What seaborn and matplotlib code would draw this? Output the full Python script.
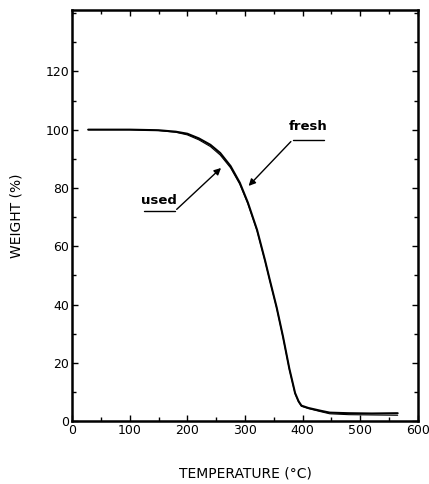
"""
TGA curves of fresh vs used sample: weight (%) against temperature.
"""
import pandas as pd
import matplotlib
matplotlib.use("Agg")
import matplotlib.pyplot as plt
import seaborn as sns

# values
temp_fresh = [28, 100, 150, 180, 200, 220, 240, 257, 275, 291, 305, 321, 335, 343, 355, 366, 377, 387, 393, 398, 410, 430, 447, 480, 520, 565]
weight_fresh = [100, 100, 99.8, 99.3, 98.6, 97.0, 94.8, 92.0, 87.5, 81.8, 75.0, 65.6, 55.0, 48.5, 39.0, 29.0, 18.0, 9.6, 6.8, 5.3, 4.5, 3.6, 2.9, 2.7, 2.6, 2.7]
temp_used = [28, 100, 150, 180, 200, 220, 240, 257, 275, 291, 305, 321, 335, 343, 355, 366, 377, 387, 393, 398, 410, 430, 447, 480, 520, 565]
weight_used = [100, 100, 99.7, 99.1, 98.2, 96.5, 94.2, 91.3, 86.9, 81.3, 74.6, 65.3, 54.8, 48.3, 38.8, 28.8, 17.8, 9.4, 6.6, 5.1, 4.3, 3.3, 2.5, 2.2, 2.1, 2.0]

df = pd.concat([
    pd.DataFrame({"temperature": temp_fresh, "weight": weight_fresh, "sample": "fresh"}),
    pd.DataFrame({"temperature": temp_used, "weight": weight_used, "sample": "used"}),
])

sns.set_theme(style="ticks")
plt.rcParams["font.family"] = ["DejaVu Sans"]
plt.rcParams["text.color"] = "black"
plt.rcParams["axes.labelcolor"] = "black"

fig = plt.figure(figsize=(4.29, 4.84), dpi=100)
ax = fig.add_axes([0.168, 0.130, 0.806, 0.849])

sns.lineplot(data=df, x="temperature", y="weight", hue="sample", size="sample",
             palette={"fresh": "black", "used": "black"},
             sizes={"fresh": 1.5, "used": 0.8}, legend=False, ax=ax, sort=False)

ax.set_xlim(0, 600)
ax.set_ylim(0, 141)
ax.set_xticks(range(0, 601, 100))
ax.set_xticks(range(0, 601, 50), minor=True)
ax.set_yticks(range(0, 121, 20))
ax.set_yticks(range(0, 141, 10), minor=True)
ax.tick_params(which="both", direction="in", top=True, right=True, labelsize=9,
               color="black", labelcolor="black", pad=2)
ax.tick_params(which="major", length=4, width=1)
ax.tick_params(which="minor", length=3, width=1)
for sp in ax.spines.values():
    sp.set_linewidth(1.8)
    sp.set_color("black")

ax.set_xlabel("TEMPERATURE (°C)", fontsize=10, labelpad=21)
ax.set_ylabel("WEIGHT (%)", fontsize=10, labelpad=16)

# annotations with underline leaders
ax.text(409, 99, "fresh", fontsize=9.5, fontweight="bold", ha="center", va="bottom")
ax.plot([438, 383], [96.6, 96.6], color="black", lw=1)
ax.annotate("", xy=(303, 80), xytext=(383, 96.6),
            arrowprops=dict(arrowstyle="-|>", color="black", lw=1, mutation_scale=10))
ax.text(150, 73.5, "used", fontsize=9.5, fontweight="bold", ha="center", va="bottom")
ax.plot([124, 178], [72, 72], color="black", lw=1)
ax.annotate("", xy=(262, 87.5), xytext=(178, 72),
            arrowprops=dict(arrowstyle="-|>", color="black", lw=1, mutation_scale=10))

fig.savefig("out.png", dpi=100)
